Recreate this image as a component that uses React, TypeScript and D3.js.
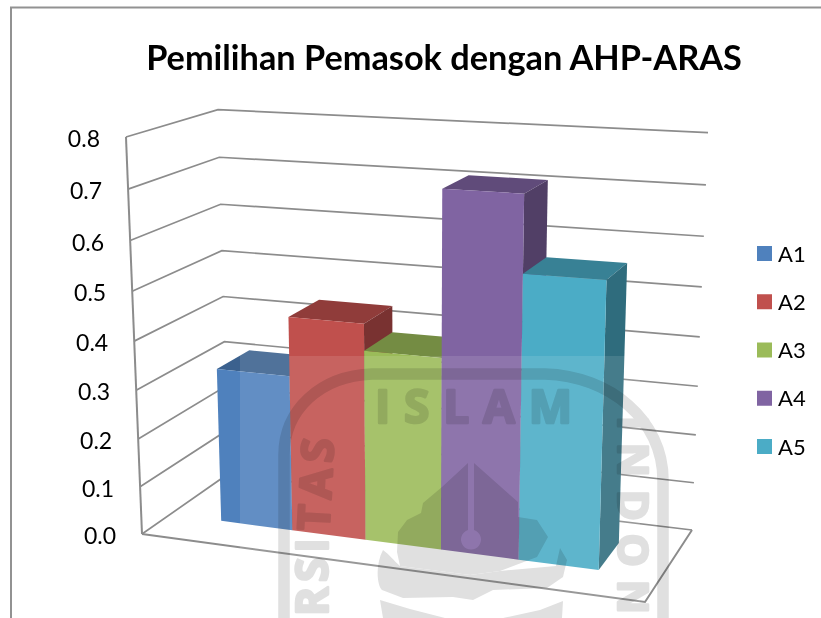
import React from "react";
import * as d3 from "d3";

const categories = ["A1", "A2", "A3", "A4", "A5"];
const values = [0.322, 0.442, 0.388, 0.714, 0.564];
const colors = ["#4F81BD", "#C0504D", "#9BBB59", "#8064A2", "#4BACC6"];
const axisTicks = [0, 0.1, 0.2, 0.3, 0.4, 0.5, 0.6, 0.7, 0.8];
const titleText = "Pemilihan Pemasok dengan AHP-ARAS";

const W = 821;
const H = 618;
const FONT = "Lato, 'Open Sans', sans-serif";
const GRID = "#8c8c8c";

type P = [number, number];
// Camera calibration: floor corners (front-left, front-right, back-right, back-left),
// the top of the front-left edge and the vanishing point of the vertical direction.
const floorQuad: P[] = [[142, 534], [645, 602], [692, 530], [228, 474]];
const axisTop: P = [126, 137];
const vertical: P = [417, 7348];

function makeFloor(q: P[]) {
  const [A, B, C, D] = q;
  const dx1 = B[0] - C[0], dx2 = D[0] - C[0], sx = A[0] - B[0] + C[0] - D[0];
  const dy1 = B[1] - C[1], dy2 = D[1] - C[1], sy = A[1] - B[1] + C[1] - D[1];
  const det = dx1 * dy2 - dx2 * dy1;
  const g = (sx * dy2 - dx2 * sy) / det;
  const h = (dx1 * sy - sx * dy1) / det;
  const a = B[0] - A[0] + g * B[0], b = D[0] - A[0] + h * D[0], c = A[0];
  const d = B[1] - A[1] + g * B[1], e = D[1] - A[1] + h * D[1], f = A[1];
  return (u: number, v: number) => {
    const w = g * u + h * v + 1;
    return { w, x: (a * u + b * v + c) / w, y: (d * u + e * v + f) / w };
  };
}
const floorAt = makeFloor(floorQuad);
const sA = (floorQuad[0][1] - axisTop[1]) / (floorQuad[0][1] - vertical[1]);
const rVert = sA / (1 - sA);
const heightScale = d3.scaleLinear().domain([0, 0.8]).range([0, 1]);

function project(u: number, v: number, val: number): P {
  const z = heightScale(val);
  const p = floorAt(u, v);
  const s = (z * rVert) / (p.w + z * rVert);
  return [p.x + s * (vertical[0] - p.x), p.y + s * (vertical[1] - p.y)];
}

const xBand = d3.scaleBand<string>().domain(categories).range([0.113, 0.884]).paddingInner(0);
const depthFront = 0.31;
const depthBack = 0.695;

const line = d3.line<P>();
const poly = (pts: P[]) => line(pts) + "Z";
const shade = (c: string, k: number) => {
  const r = d3.rgb(c);
  return d3.rgb(r.r * k, r.g * k, r.b * k).formatHex();
};

const wmColor = "#e0e0e0";
const wmText: React.CSSProperties = {
  fontFamily: "'Open Sans', sans-serif",
  fontWeight: 700,
  fill: wmColor,
  stroke: wmColor,
  strokeWidth: 2.5,
  strokeLinejoin: "round",
};

function Watermark() {
  return (
    <g style={{ mixBlendMode: "multiply" }}>
      <path
        d="M284 618 L284 455 C284 410 320 376 372 374 L545 374 C610 376 663 420 663 480 L663 618"
        fill="none"
        stroke={wmColor}
        strokeWidth={11.5}
      />
      <text x={375} y={423} textLength={197} lengthAdjust="spacing" style={{ ...wmText, fontSize: 46 }}>ISLAM</text>
      <text transform="translate(329,531) rotate(-87)" style={{ ...wmText, fontSize: 44, letterSpacing: 6 }}>TAS</text>
      <text transform="translate(328,616) rotate(-90)" style={{ ...wmText, fontSize: 44, letterSpacing: 5 }}>RSI</text>
      <text transform="translate(618,416) rotate(90)" textLength={198} lengthAdjust="spacing" style={{ ...wmText, fontSize: 42 }}>INDON</text>
      <path
        d="M468 463 L442 487 L423 503 L421 513 L407 520 L398 532 L397 552 L400 566 L470 575 L500 571 L537 557 L548 537 L537 520 L518 517 L518 502 L474 463 L474 530 A10 10 0 1 1 468 530 Z"
        fill={wmColor}
      />
      <path
        d="M383 550 C375 565 377 585 382 590 L403 598 L453 597 L473 600 L493 590 L547 588 L563 577 L567 560 L560 548 L556 566 L500 571 L470 575 L400 566 C393 560 390 555 383 550 Z"
        fill={wmColor}
      />
      <path d="M380 600 L410 609 L445 618 L383 618 Z" fill={wmColor} />
      <path d="M503 618 L540 610 L563 601 L562 618 Z" fill={wmColor} />
    </g>
  );
}

export default function App() {
  const wallPath = (val: number) =>
    line([project(0, 0, val), project(0, 1, val), project(1, 1, val)]) as string;
  const bw = xBand.bandwidth();
  const legendY = d3.scaleLinear().domain([0, 4]).range([246, 439]);

  return (
    <svg
      width={W}
      height={H}
      viewBox={`0 0 ${W} ${H}`}
      style={{ position: "absolute", left: 0, top: 0, display: "block", background: "#fff" }}
    >
      <path d={`M11 ${H} L11 7.5 L${W} 7.5`} fill="none" stroke="#929292" strokeWidth={2} />
      <text x={444} y={70} textAnchor="middle" style={{ fontFamily: FONT, fontWeight: 700, fontSize: 34.3, fill: "#000" }}>
        {titleText}
      </text>

      <g fill="none" stroke={GRID} strokeWidth={1.7}>
        {axisTicks.map((t) => (
          <path key={t} d={wallPath(t)} />
        ))}
        <path d={line([project(0, 0, 0), project(0, 0, 0.8)]) as string} strokeWidth={2} />
        <path d={line([project(0, 0, 0), project(1, 0, 0), project(1, 1, 0)]) as string} strokeWidth={2} />
      </g>

      {axisTicks.map((t) => {
        const [x, y] = project(0, 0, t);
        return (
          <text
            key={t}
            x={x - 26}
            y={y + 1}
            textAnchor="end"
            dominantBaseline="central"
            style={{ fontFamily: FONT, fontSize: 23, fill: "#000" }}
          >
            {t.toFixed(1)}
          </text>
        );
      })}

      {categories.map((c, i) => {
        const u0 = xBand(c) as number;
        const u1 = u0 + bw;
        const val = values[i];
        const col = colors[i];
        return (
          <g key={c}>
            <path
              d={poly([project(u0, depthFront, val), project(u1, depthFront, val), project(u1, depthBack, val), project(u0, depthBack, val)])}
              fill={shade(col, 0.75)}
            />
            <path
              d={poly([project(u1, depthFront, val), project(u1, depthBack, val), project(u1, depthBack, 0), project(u1, depthFront, 0)])}
              fill={shade(col, 0.63)}
            />
            <path
              d={poly([project(u0, depthFront, 0), project(u1, depthFront, 0), project(u1, depthFront, val), project(u0, depthFront, val)])}
              fill={col}
            />
          </g>
        );
      })}

      <rect x={240} y={356} width={400} height={H - 356} fill="#fff" fillOpacity={0.11} />
      <rect x={240} y={350} width={49} height={6} fill="#fff" fillOpacity={0.11} />
      <Watermark />

      {categories.map((c, i) => {
        const y = legendY(i);
        return (
          <g key={c}>
            <rect x={757} y={y} width={15} height={15} fill={colors[i]} />
            <text x={778} y={y + 7} dominantBaseline="central" style={{ fontFamily: FONT, fontSize: 22, fill: "#000" }}>
              {c}
            </text>
          </g>
        );
      })}
    </svg>
  );
}
